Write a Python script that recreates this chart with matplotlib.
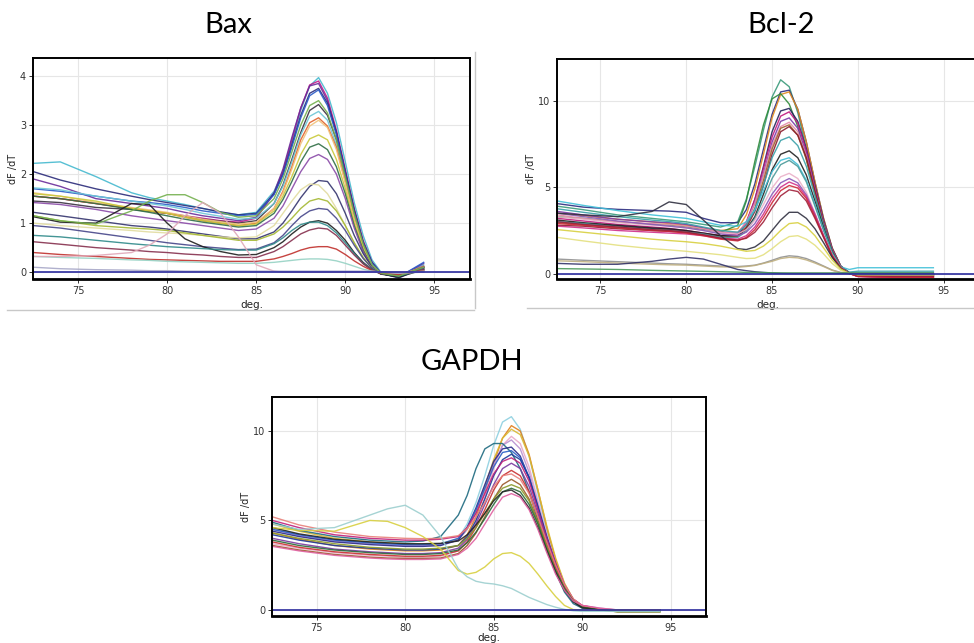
import matplotlib
matplotlib.use('Agg')
import matplotlib.pyplot as plt
from matplotlib.lines import Line2D

# ---------------- Data ----------------
bax_temps = [72.5, 74, 76, 78, 79, 80, 81, 82, 83, 84, 85, 86, 86.5, 87, 87.5,
             88, 88.5, 89, 89.5, 90, 90.5, 91, 91.5, 92, 93, 94.4]
bax_curves = [
    [2.22, 2.25, 1.95, 1.62, 1.52, 1.45, 1.38, 1.30, 1.22, 1.17, 1.22, 1.65, 2.05, 2.65, 3.30, 3.80, 3.97, 3.65, 3.05, 2.25, 1.42, 0.75, 0.25, 0.00, -0.08, 0.15],
    [1.55, 1.50, 1.40, 1.30, 1.25, 1.20, 1.15, 1.10, 1.05, 1.02, 1.10, 1.60, 2.05, 2.70, 3.35, 3.82, 3.90, 3.55, 2.90, 2.10, 1.30, 0.65, 0.20, -0.02, -0.10, 0.12],
    [1.90, 1.75, 1.50, 1.40, 1.35, 1.30, 1.22, 1.15, 1.10, 1.05, 1.12, 1.62, 2.10, 2.75, 3.35, 3.80, 3.85, 3.50, 2.85, 2.05, 1.25, 0.60, 0.18, -0.03, -0.10, 0.18],
    [2.05, 1.88, 1.70, 1.55, 1.48, 1.42, 1.36, 1.30, 1.23, 1.17, 1.20, 1.60, 2.00, 2.60, 3.20, 3.65, 3.75, 3.45, 2.85, 2.05, 1.28, 0.62, 0.20, -0.02, -0.12, 0.10],
    [1.70, 1.65, 1.55, 1.45, 1.42, 1.38, 1.32, 1.25, 1.20, 1.15, 1.18, 1.58, 1.98, 2.55, 3.15, 3.60, 3.72, 3.40, 2.80, 2.00, 1.22, 0.60, 0.18, -0.03, -0.10, 0.20],
    [1.45, 1.42, 1.32, 1.28, 1.24, 1.20, 1.14, 1.08, 1.04, 1.00, 1.05, 1.40, 1.78, 2.30, 2.85, 3.30, 3.42, 3.20, 2.70, 1.95, 1.20, 0.58, 0.15, -0.03, -0.10, 0.10],
    [1.72, 1.68, 1.55, 1.45, 1.40, 1.35, 1.28, 1.20, 1.14, 1.08, 1.10, 1.40, 1.75, 2.25, 2.80, 3.18, 3.28, 3.10, 2.60, 1.90, 1.15, 0.55, 0.15, -0.02, -0.08, 0.10],
    [1.55, 1.50, 1.40, 1.30, 1.25, 1.20, 1.12, 1.05, 1.00, 0.95, 1.00, 1.30, 1.65, 2.15, 2.70, 3.05, 3.15, 2.98, 2.55, 1.85, 1.10, 0.52, 0.12, -0.03, -0.08, 0.12],
    [1.62, 1.55, 1.42, 1.32, 1.27, 1.22, 1.15, 1.08, 1.03, 0.98, 1.02, 1.30, 1.62, 2.10, 2.62, 2.98, 3.10, 2.95, 2.50, 1.82, 1.08, 0.50, 0.12, -0.02, -0.06, 0.10],
    [1.60, 1.55, 1.45, 1.30, 1.25, 1.20, 1.12, 1.05, 1.00, 0.95, 0.98, 1.25, 1.55, 1.95, 2.40, 2.72, 2.80, 2.70, 2.30, 1.70, 1.00, 0.48, 0.10, -0.03, -0.08, 0.10],
    [1.55, 1.50, 1.40, 1.28, 1.22, 1.15, 1.08, 1.02, 0.97, 0.92, 0.95, 1.20, 1.48, 1.85, 2.25, 2.55, 2.62, 2.50, 2.15, 1.60, 0.95, 0.45, 0.10, -0.03, -0.08, 0.10],
    [1.42, 1.38, 1.28, 1.15, 1.10, 1.05, 1.00, 0.95, 0.90, 0.85, 0.88, 1.10, 1.35, 1.70, 2.05, 2.32, 2.40, 2.30, 2.00, 1.50, 0.90, 0.42, 0.10, -0.03, -0.08, 0.10],
    [1.22, 1.15, 1.05, 0.95, 0.92, 0.88, 0.83, 0.78, 0.73, 0.68, 0.68, 0.82, 1.00, 1.25, 1.52, 1.75, 1.87, 1.85, 1.60, 1.20, 0.75, 0.38, 0.10, -0.03, -0.08, 0.08],
    [1.00, 0.95, 0.90, 0.85, 0.82, 0.80, 0.78, 0.75, 0.72, 0.70, 0.72, 0.95, 1.20, 1.45, 1.68, 1.80, 1.78, 1.60, 1.30, 0.95, 0.60, 0.30, 0.08, -0.02, -0.05, 0.05],
    [1.15, 1.05, 0.95, 0.90, 0.88, 0.85, 0.80, 0.75, 0.70, 0.65, 0.65, 0.78, 0.92, 1.10, 1.30, 1.45, 1.50, 1.45, 1.25, 0.95, 0.60, 0.30, 0.08, -0.03, -0.06, 0.08],
    [0.95, 0.90, 0.80, 0.70, 0.65, 0.60, 0.56, 0.52, 0.49, 0.46, 0.47, 0.60, 0.75, 0.95, 1.13, 1.25, 1.30, 1.28, 1.10, 0.85, 0.55, 0.28, 0.08, -0.03, -0.08, 0.08],
    [1.13, 1.02, 1.00, 1.40, 1.38, 1.00, 0.68, 0.52, 0.42, 0.35, 0.36, 0.50, 0.62, 0.78, 0.92, 1.02, 1.05, 1.00, 0.85, 0.65, 0.40, 0.20, 0.05, -0.04, -0.10, 0.05],
    [0.75, 0.72, 0.65, 0.58, 0.55, 0.52, 0.50, 0.48, 0.46, 0.45, 0.45, 0.58, 0.70, 0.85, 0.97, 1.02, 1.02, 0.95, 0.80, 0.60, 0.38, 0.18, 0.05, -0.03, -0.08, 0.05],
    [0.62, 0.57, 0.50, 0.45, 0.42, 0.40, 0.37, 0.35, 0.32, 0.30, 0.30, 0.42, 0.52, 0.65, 0.78, 0.86, 0.90, 0.88, 0.75, 0.55, 0.35, 0.17, 0.04, -0.03, -0.06, 0.05],
    [0.40, 0.36, 0.32, 0.28, 0.26, 0.25, 0.24, 0.23, 0.22, 0.22, 0.22, 0.27, 0.32, 0.38, 0.45, 0.50, 0.52, 0.52, 0.47, 0.36, 0.23, 0.12, 0.03, -0.02, -0.04, 0.03],
    [0.32, 0.30, 0.28, 0.25, 0.24, 0.22, 0.21, 0.20, 0.19, 0.18, 0.18, 0.20, 0.22, 0.24, 0.26, 0.27, 0.27, 0.26, 0.23, 0.18, 0.12, 0.06, 0.02, 0.00, -0.02, 0.02],
    [1.15, 1.05, 0.98, 1.25, 1.45, 1.58, 1.58, 1.42, 1.22, 1.12, 1.15, 1.50, 1.90, 2.45, 3.00, 3.40, 3.50, 3.25, 2.70, 1.95, 1.20, 0.58, 0.15, -0.02, -0.08, 0.10],
    [0.32, 0.32, 0.34, 0.40, 0.55, 0.78, 1.15, 1.42, 1.20, 0.72, 0.15, 0.02, 0.00, 0.00, 0.00, 0.00, 0.00, 0.00, 0.00, 0.00, 0.00, 0.00, 0.00, 0.00, 0.00, 0.00],
    [0.10, 0.07, 0.05, 0.04, 0.03, 0.03, 0.02, 0.02, 0.02, 0.02, 0.02, 0.02, 0.02, 0.02, 0.02, 0.02, 0.02, 0.02, 0.02, 0.02, 0.02, 0.02, 0.02, 0.00, -0.02, 0.00],
]
bax_colors = ['#45b9cf', '#c2188a', '#6a2c9a', '#2b2b7a', '#2a5cc8', '#3a3040',
              '#6cc6d6', '#e0622c', '#f2c27a', '#c9c93a', '#2f6e45', '#8a4aa8',
              '#34346e', '#e2dca0', '#a4b832', '#46468a', '#1e1e1e', '#2f8a8a',
              '#86304e', '#c0302c', '#96d2c4', '#74b04e', '#e0a8b8', '#a8a8c8']

bcl_temps = [72.5, 74, 76, 78, 79, 80, 81, 82, 83, 83.5, 84, 84.5, 85, 85.5, 86,
             86.5, 87, 87.5, 88, 88.5, 89, 89.5, 90, 92, 94.4]
bcl_curves = [
    [3.90, 3.70, 3.40, 3.20, 3.10, 3.00, 2.85, 2.70, 3.00, 4.30, 6.20, 8.30, 10.2, 11.2, 10.8, 9.30, 7.20, 5.00, 3.00, 1.40, 0.40, 0.05, -0.05, -0.05, -0.05],
    [4.05, 3.85, 3.72, 3.65, 3.62, 3.55, 3.20, 2.95, 2.95, 3.70, 5.20, 7.20, 9.20, 10.5, 10.6, 9.50, 7.60, 5.30, 3.20, 1.50, 0.45, 0.05, -0.05, -0.10, -0.10],
    [3.50, 3.35, 3.15, 3.00, 2.90, 2.80, 2.65, 2.50, 2.60, 3.40, 4.90, 6.90, 9.00, 10.35, 10.5, 9.50, 7.60, 5.30, 3.20, 1.50, 0.45, 0.05, -0.05, -0.10, -0.10],
    [3.30, 3.20, 3.00, 2.85, 2.80, 2.70, 2.55, 2.40, 2.80, 4.20, 6.50, 8.60, 10.1, 10.4, 9.80, 8.50, 6.60, 4.60, 2.70, 1.20, 0.35, 0.05, -0.05, 0.00, 0.00],
    [3.00, 2.90, 2.75, 2.60, 2.55, 2.45, 2.30, 2.10, 2.20, 2.90, 4.30, 6.20, 8.20, 9.40, 9.55, 8.80, 7.20, 5.10, 3.10, 1.45, 0.45, 0.05, -0.05, -0.05, -0.05],
    [3.20, 3.05, 2.85, 2.70, 2.62, 2.50, 2.35, 2.20, 2.30, 3.00, 4.30, 6.10, 7.90, 9.10, 9.35, 8.70, 7.10, 5.00, 3.00, 1.40, 0.42, 0.02, -0.15, -0.20, -0.20],
    [3.60, 3.40, 3.15, 3.00, 2.95, 2.85, 2.65, 2.40, 2.35, 2.90, 4.10, 5.80, 7.60, 8.80, 9.00, 8.40, 6.90, 4.90, 3.00, 1.40, 0.42, 0.03, -0.10, -0.15, -0.15],
    [3.40, 3.20, 3.00, 2.90, 2.85, 2.75, 2.60, 2.40, 2.40, 2.95, 4.10, 5.70, 7.40, 8.50, 8.75, 8.20, 6.80, 4.80, 2.90, 1.35, 0.40, 0.05, -0.05, -0.05, -0.05],
    [2.95, 2.85, 2.70, 2.55, 2.50, 2.40, 2.25, 2.10, 2.15, 2.70, 3.80, 5.40, 7.20, 8.40, 8.60, 8.00, 6.60, 4.70, 2.85, 1.30, 0.40, 0.05, -0.10, -0.15, -0.15],
    [2.80, 2.75, 2.60, 2.50, 2.45, 2.40, 2.30, 2.20, 2.20, 2.65, 3.60, 5.10, 6.90, 8.20, 8.50, 8.00, 6.70, 4.80, 2.90, 1.35, 0.40, 0.02, -0.15, -0.20, -0.20],
    [3.75, 3.55, 3.30, 3.10, 3.02, 2.90, 2.70, 2.50, 2.40, 2.80, 3.70, 5.10, 6.70, 7.70, 7.90, 7.40, 6.20, 4.50, 2.80, 1.30, 0.40, 0.10, 0.15, 0.15, 0.15],
    [3.10, 2.95, 2.80, 2.65, 2.60, 2.50, 2.35, 2.20, 2.20, 2.55, 3.30, 4.60, 6.00, 6.90, 7.10, 6.70, 5.70, 4.20, 2.65, 1.25, 0.40, 0.05, -0.05, -0.05, -0.05],
    [4.20, 3.95, 3.65, 3.40, 3.30, 3.20, 3.00, 2.80, 2.75, 3.00, 3.70, 4.80, 5.90, 6.55, 6.70, 6.30, 5.40, 4.00, 2.55, 1.20, 0.40, 0.25, 0.35, 0.35, 0.35],
    [3.00, 2.90, 2.70, 2.55, 2.50, 2.40, 2.30, 2.10, 2.10, 2.45, 3.20, 4.30, 5.50, 6.30, 6.55, 6.20, 5.30, 3.90, 2.50, 1.20, 0.38, 0.05, 0.05, 0.05, 0.05],
    [3.30, 3.15, 2.95, 2.80, 2.75, 2.65, 2.50, 2.35, 2.30, 2.55, 3.10, 4.00, 4.95, 5.60, 5.80, 5.50, 4.70, 3.50, 2.25, 1.10, 0.35, 0.02, -0.05, -0.05, -0.05],
    [3.50, 3.30, 3.05, 2.85, 2.75, 2.65, 2.50, 2.30, 2.20, 2.40, 2.90, 3.70, 4.60, 5.25, 5.50, 5.25, 4.55, 3.45, 2.20, 1.05, 0.35, 0.02, -0.05, -0.05, -0.05],
    [2.75, 2.65, 2.50, 2.40, 2.35, 2.30, 2.20, 2.05, 2.00, 2.20, 2.70, 3.45, 4.35, 5.00, 5.30, 5.10, 4.45, 3.40, 2.20, 1.05, 0.35, 0.02, -0.15, -0.20, -0.20],
    [2.90, 2.80, 2.65, 2.50, 2.45, 2.35, 2.20, 2.00, 1.90, 2.10, 2.55, 3.25, 4.10, 4.80, 5.10, 4.95, 4.35, 3.30, 2.15, 1.05, 0.35, 0.02, -0.15, -0.20, -0.20],
    [3.00, 2.85, 2.70, 2.55, 2.50, 2.40, 2.25, 2.05, 1.95, 2.05, 2.40, 3.00, 3.80, 4.50, 4.85, 4.75, 4.20, 3.20, 2.10, 1.00, 0.33, 0.02, -0.10, -0.15, -0.15],
    [3.50, 3.40, 3.30, 3.60, 4.15, 4.00, 3.10, 2.20, 1.45, 1.40, 1.55, 1.90, 2.50, 3.10, 3.55, 3.55, 3.20, 2.60, 1.80, 0.95, 0.30, 0.02, -0.05, -0.05, -0.05],
    [2.55, 2.40, 2.20, 2.00, 1.92, 1.85, 1.75, 1.60, 1.40, 1.30, 1.35, 1.60, 2.00, 2.50, 2.90, 2.95, 2.70, 2.20, 1.50, 0.80, 0.28, 0.02, -0.05, -0.05, -0.05],
    [2.10, 1.90, 1.65, 1.45, 1.38, 1.30, 1.20, 1.10, 0.95, 0.88, 0.90, 1.10, 1.45, 1.85, 2.15, 2.20, 2.00, 1.65, 1.15, 0.60, 0.20, 0.02, -0.05, -0.05, -0.05],
    [0.85, 0.78, 0.70, 0.62, 0.58, 0.55, 0.50, 0.45, 0.42, 0.45, 0.50, 0.62, 0.78, 0.95, 1.04, 1.00, 0.88, 0.68, 0.45, 0.22, 0.08, 0.02, 0.00, 0.00, 0.00],
    [0.75, 0.70, 0.62, 0.55, 0.52, 0.50, 0.45, 0.40, 0.38, 0.42, 0.48, 0.60, 0.72, 0.88, 0.95, 0.92, 0.80, 0.62, 0.42, 0.20, 0.06, 0.02, 0.00, 0.00, 0.00],
    [0.60, 0.55, 0.55, 0.72, 0.85, 0.95, 0.85, 0.55, 0.25, 0.18, 0.12, 0.08, 0.05, 0.03, 0.02, 0.02, 0.02, 0.02, 0.02, 0.02, 0.02, 0.02, 0.02, 0.02, 0.02],
    [0.30, 0.28, 0.25, 0.20, 0.18, 0.16, 0.14, 0.12, 0.10, 0.08, 0.08, 0.07, 0.06, 0.05, 0.05, 0.05, 0.05, 0.05, 0.05, 0.05, 0.05, 0.05, 0.05, 0.05, 0.05],
]
bcl_colors = ['#3a9a7a', '#2c2c80', '#e08a1e', '#2f8a3a', '#22225a', '#c0187f',
              '#7a3aa8', '#e48aa8', '#a0602a', '#8a1c2c', '#3aa0a8', '#202020',
              '#40c0d8', '#4a9a9a', '#eab0c8', '#8a5ab8', '#d0308a', '#d02838',
              '#a0203a', '#303040', '#d8d040', '#e4e080', '#909090', '#c0b080',
              '#34346a', '#4a9a5a']

gapdh_temps = [72.5, 74, 76, 78, 79, 80, 81, 82, 83, 83.5, 84, 84.5, 85, 85.5, 86,
               86.5, 87, 87.5, 88, 88.5, 89, 89.5, 90, 91, 92, 94.4]
gapdh_curves = [
    [4.60, 4.20, 3.90, 3.75, 3.70, 3.65, 3.60, 3.60, 4.00, 4.80, 6.00, 7.50, 9.20, 10.5, 10.8, 10.1, 8.60, 6.50, 4.40, 2.70, 1.40, 0.50, 0.10, 0.00, 0.00, 0.00],
    [4.30, 3.95, 3.60, 3.40, 3.35, 3.30, 3.30, 3.35, 3.60, 4.20, 5.20, 6.60, 8.20, 9.60, 10.3, 10.0, 8.70, 6.70, 4.60, 2.80, 1.45, 0.55, 0.15, 0.00, -0.10, -0.10],
    [4.80, 4.40, 4.00, 3.80, 3.75, 3.70, 3.65, 3.70, 3.95, 4.50, 5.50, 6.90, 8.40, 9.60, 10.1, 9.80, 8.60, 6.70, 4.70, 2.90, 1.50, 0.60, 0.20, 0.00, -0.10, -0.10],
    [3.70, 3.45, 3.20, 3.05, 3.00, 2.95, 2.95, 3.00, 3.30, 3.90, 4.90, 6.30, 7.90, 9.20, 9.70, 9.30, 8.00, 6.10, 4.20, 2.60, 1.40, 0.60, 0.25, 0.05, 0.00, 0.00],
    [4.50, 4.15, 3.85, 3.70, 3.65, 3.60, 3.60, 3.65, 3.90, 4.50, 5.40, 6.70, 8.10, 9.20, 9.50, 9.00, 7.70, 5.90, 4.10, 2.60, 1.40, 0.60, 0.25, 0.10, 0.00, 0.00],
    [4.90, 4.45, 4.10, 3.90, 3.85, 3.80, 3.85, 4.10, 5.30, 6.40, 7.90, 9.00, 9.30, 9.30, 8.80, 7.90, 6.60, 5.00, 3.50, 2.10, 1.00, 0.35, 0.10, 0.00, 0.00, 0.00],
    [4.40, 4.10, 3.80, 3.65, 3.60, 3.55, 3.55, 3.60, 3.90, 4.60, 5.70, 7.00, 8.30, 9.00, 9.10, 8.60, 7.40, 5.70, 4.00, 2.50, 1.30, 0.50, 0.15, 0.00, 0.00, 0.00],
    [4.50, 4.20, 3.90, 3.75, 3.70, 3.65, 3.65, 3.70, 4.00, 4.60, 5.60, 6.80, 8.00, 8.80, 8.90, 8.50, 7.40, 5.70, 4.00, 2.50, 1.30, 0.50, 0.15, 0.00, 0.00, 0.00],
    [4.20, 3.90, 3.60, 3.45, 3.40, 3.35, 3.35, 3.40, 3.60, 4.10, 5.00, 6.20, 7.50, 8.40, 8.70, 8.40, 7.40, 5.80, 4.10, 2.60, 1.35, 0.50, 0.15, 0.00, 0.00, 0.00],
    [5.00, 4.60, 4.20, 4.00, 3.95, 3.90, 3.90, 3.95, 4.10, 4.60, 5.40, 6.50, 7.60, 8.30, 8.50, 8.20, 7.20, 5.60, 4.00, 2.60, 1.40, 0.60, 0.25, 0.05, -0.05, -0.05],
    [4.00, 3.70, 3.40, 3.25, 3.20, 3.15, 3.15, 3.20, 3.45, 3.95, 4.80, 5.90, 7.00, 7.90, 8.20, 7.90, 6.90, 5.40, 3.80, 2.40, 1.30, 0.50, 0.15, 0.00, 0.00, 0.00],
    [3.80, 3.50, 3.25, 3.10, 3.05, 3.00, 3.00, 3.05, 3.30, 3.80, 4.60, 5.60, 6.70, 7.50, 7.80, 7.50, 6.60, 5.20, 3.70, 2.40, 1.30, 0.55, 0.20, 0.00, -0.05, -0.05],
    [5.20, 4.75, 4.35, 4.10, 4.05, 4.00, 3.98, 4.00, 4.15, 4.55, 5.20, 6.00, 6.90, 7.50, 7.60, 7.30, 6.50, 5.20, 3.80, 2.50, 1.40, 0.60, 0.25, 0.05, 0.00, 0.00],
    [3.60, 3.35, 3.10, 2.95, 2.90, 2.88, 2.88, 2.90, 3.15, 3.60, 4.30, 5.20, 6.20, 7.00, 7.30, 7.00, 6.20, 4.90, 3.50, 2.20, 1.20, 0.50, 0.15, 0.00, -0.05, -0.05],
    [4.30, 4.00, 3.70, 3.50, 3.45, 3.40, 3.40, 3.45, 3.60, 4.00, 4.60, 5.40, 6.20, 6.80, 7.00, 6.80, 6.10, 4.90, 3.50, 2.20, 1.20, 0.50, 0.15, 0.00, -0.05, -0.05],
    [3.90, 3.60, 3.35, 3.20, 3.15, 3.10, 3.10, 3.15, 3.35, 3.75, 4.35, 5.10, 5.90, 6.60, 6.80, 6.60, 5.90, 4.80, 3.40, 2.20, 1.20, 0.50, 0.15, 0.00, -0.10, -0.10],
    [4.60, 4.25, 3.95, 3.80, 3.75, 3.70, 3.70, 3.72, 3.85, 4.20, 4.75, 5.40, 6.10, 6.60, 6.70, 6.40, 5.70, 4.60, 3.30, 2.10, 1.10, 0.45, 0.12, 0.00, 0.00, 0.00],
    [3.55, 3.30, 3.05, 2.90, 2.85, 2.82, 2.82, 2.85, 3.10, 3.45, 4.00, 4.80, 5.60, 6.30, 6.50, 6.30, 5.60, 4.50, 3.20, 2.00, 1.10, 0.50, 0.25, 0.10, 0.00, 0.00],
    [4.60, 4.45, 4.40, 5.00, 4.95, 4.60, 4.10, 3.40, 2.20, 2.00, 2.10, 2.40, 2.85, 3.15, 3.20, 3.00, 2.60, 2.00, 1.35, 0.75, 0.25, 0.02, 0.00, 0.00, 0.00, 0.00],
    [4.80, 4.50, 4.60, 5.30, 5.65, 5.85, 5.30, 4.10, 2.30, 1.85, 1.60, 1.50, 1.45, 1.35, 1.20, 0.95, 0.70, 0.50, 0.30, 0.15, 0.03, -0.05, -0.08, -0.08, -0.08, -0.08],
]
gapdh_colors = ['#8ed0e0', '#e0801e', '#d8b830', '#e8a8c8', '#b890d0', '#1e6a80',
                '#2a2a8a', '#2a60c8', '#1a3a9a', '#c0207a', '#7a3aa0', '#c83030',
                '#e8807a', '#9a5a2a', '#8a9a2a', '#2a6a3a', '#252525', '#e060a0',
                '#d8d040', '#9ccfcf']

W, H = 974, 643


def add_panel(fig, box, temps, curves, colors, yticks, ylim, xlabel_pad=3):
    left, top, right, bottom = box
    ax = fig.add_axes([left / W, 1 - bottom / H, (right - left) / W, (bottom - top) / H])
    ax.grid(True, color='#e6e6e6', lw=0.8)
    ax.set_axisbelow(True)
    for vals, col in zip(curves, colors):
        ax.plot(temps, vals, color=col, lw=1.0, alpha=0.9)
    ax.axhline(0, color='#2b2b9e', lw=1.2)
    ax.set_xlim(72.47, 97.0)
    ax.set_ylim(*ylim)
    ax.set_xticks([75, 80, 85, 90, 95])
    ax.set_yticks(yticks)
    ax.tick_params(labelsize=7, length=3, width=0.7, colors='#333333', pad=2)
    for s in ax.spines.values():
        s.set_linewidth(1.4)
        s.set_color('black')
    ax.spines['bottom'].set_linewidth(2.0)
    ax.set_xlabel('deg.', fontsize=7.5, labelpad=xlabel_pad, color='#222222')
    ax.set_ylabel('dF /dT', fontsize=7, labelpad=1, color='#222222')
    return ax


fig = plt.figure(figsize=(W / 100, H / 100), dpi=100)

add_panel(fig, (33, 58, 470, 279), bax_temps, bax_curves, bax_colors,
          [0, 1, 2, 3, 4], (-0.14, 4.37))
add_panel(fig, (557, 59, 978, 279), bcl_temps, bcl_curves, bcl_colors,
          [0, 5, 10], (-0.3, 12.4))
add_panel(fig, (272, 397, 706, 616), gapdh_temps, gapdh_curves, gapdh_colors,
          [0, 5, 10], (-0.34, 11.9), xlabel_pad=0)

# titles
for label, x, y in [('Bax', 228, 25), ('Bcl-2', 781, 25), ('GAPDH', 472, 362)]:
    fig.text(x / W, 1 - y / H, label, ha='center', va='center', fontsize=21,
             family='Lato', color='black')

# light frame lines left over from the screenshots
for (x0, y0, x1, y1) in [(475, 52, 475, 308), (7, 310, 474, 310), (527, 308, 974, 308)]:
    fig.add_artist(Line2D([x0 / W, x1 / W], [1 - y0 / H, 1 - y1 / H],
                          transform=fig.transFigure, color='#c8c8c8', lw=1.0))

plt.savefig('out.png', dpi=100)
